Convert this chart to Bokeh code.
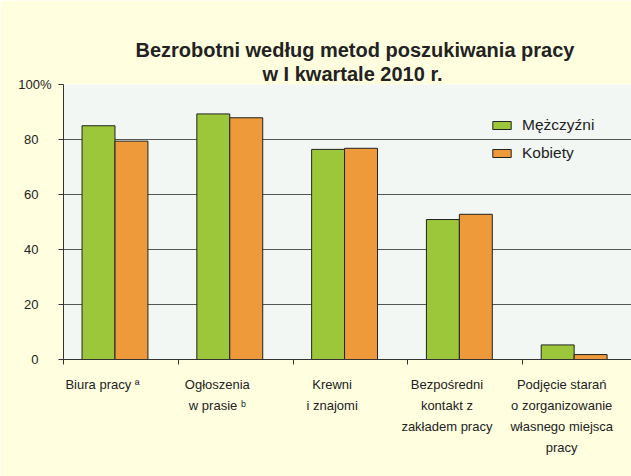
from bokeh.plotting import figure
from bokeh.models import Range1d, FixedTicker, Legend, LegendItem, BoxAnnotation, Title
from bokeh.embed import file_html
from bokeh.resources import INLINE

categories = ["Biura pracy \u00aa", "Ogłoszenia\nw prasie \u1d47", "Krewni\ni znajomi",
              "Bezpośredni\nkontakt z\nzakładem pracy",
              "Podjęcie starań\no zorganizowanie\nwłasnego miejsca\npracy"]
men = [85.0, 89.3, 76.4, 50.9, 5.3]
women = [79.4, 87.9, 76.8, 52.8, 1.8]
series = ["Mężczyźni", "Kobiety"]
y_ticks = [0, 20, 40, 60, 80, 100]
y_tick_labels = ["0", "20", "40", "60", "80", "100%"]
title_lines = ["Bezrobotni według metod poszukiwania pracy", "w I kwartale 2010 r."]
title_offsets = [72, 199]

GREEN = "#9DC73A"
ORANGE = "#EE9A3A"
FONT = "Liberation Sans"
PAD = "\u2002\u2002"   # visual padding so short tick labels sit centred like the original

n = len(categories)
shift = 0.34      # label centre offset from category boundary
bw = 0.287

p = figure(width=631, height=476, x_range=Range1d(-shift, 4.948 - shift), y_range=Range1d(0, 100),
           output_backend="svg", toolbar_location=None,
           min_border_left=63, min_border_right=0, min_border_top=84, min_border_bottom=117)
p.background_fill_color = None
p.border_fill_color = "#FFFFE0"
p.outline_line_color = None

panel = BoxAnnotation(left=13, right=637, top=13, bottom=475,
                      left_units="canvas", right_units="canvas", top_units="canvas", bottom_units="canvas",
                      fill_color="#F2F7F3", fill_alpha=1, line_color="#A0A0A0", line_width=1,
                      border_radius=18, level="image")
p.add_layout(panel)

xs = list(range(n))
r1 = p.vbar(x=[i - 0.035 for i in xs], top=men, width=bw, fill_color=GREEN, line_color="#222222", line_width=1)
r2 = p.vbar(x=[i + 0.252 for i in xs], top=women, width=bw, fill_color=ORANGE, line_color="#222222", line_width=1)

for line, off in reversed(list(zip(title_lines, title_offsets))):
    p.add_layout(Title(text=line, align="left", text_font=FONT, text_font_size="20px",
                       text_font_style="bold", text_color="#222222", offset=off, standoff=0,
                       text_line_height=1.0), "above")

xa = p.xaxis[0]
xa.ticker = FixedTicker(ticks=xs, minor_ticks=[i - shift for i in range(n + 1)])
xa.major_label_overrides = {i: c for i, c in zip(xs, categories)}
xa.major_tick_out = 0
xa.major_tick_in = 0
xa.minor_tick_out = 5
xa.minor_tick_in = 0
xa.minor_tick_line_color = "#333333"
xa.axis_line_color = "#333333"
xa.major_label_text_font = FONT
xa.major_label_text_font_size = "13px"
xa.major_label_text_color = "#222222"
xa.major_label_standoff = 12
xa.major_label_text_line_height = 1.41

ya = p.yaxis[0]
ya.ticker = FixedTicker(ticks=y_ticks)
ya.major_label_overrides = {t: (l if l.endswith("%") else l + PAD) for t, l in zip(y_ticks, y_tick_labels)}
ya.major_tick_out = 5
ya.major_tick_in = 0
ya.minor_tick_line_color = None
ya.axis_line_color = "#333333"
ya.major_tick_line_color = "#333333"
ya.major_label_text_font = FONT
ya.major_label_text_font_size = "13px"
ya.major_label_text_color = "#222222"
ya.major_label_standoff = 7

p.xgrid.grid_line_color = None
p.ygrid.ticker = FixedTicker(ticks=y_ticks)
p.ygrid.grid_line_color = "#555555"

legend = Legend(items=[LegendItem(label=series[0], renderers=[r1]),
                       LegendItem(label=series[1], renderers=[r2])],
                location=(427, 196), label_text_font=FONT, label_text_font_size="15.5px",
                label_text_color="#222222", glyph_width=23, glyph_height=10, label_standoff=9,
                spacing=8, padding=10, label_height=20, border_line_color=None,
                background_fill_alpha=0)
p.add_layout(legend)

open("out.html", "w").write(file_html(p, INLINE))
